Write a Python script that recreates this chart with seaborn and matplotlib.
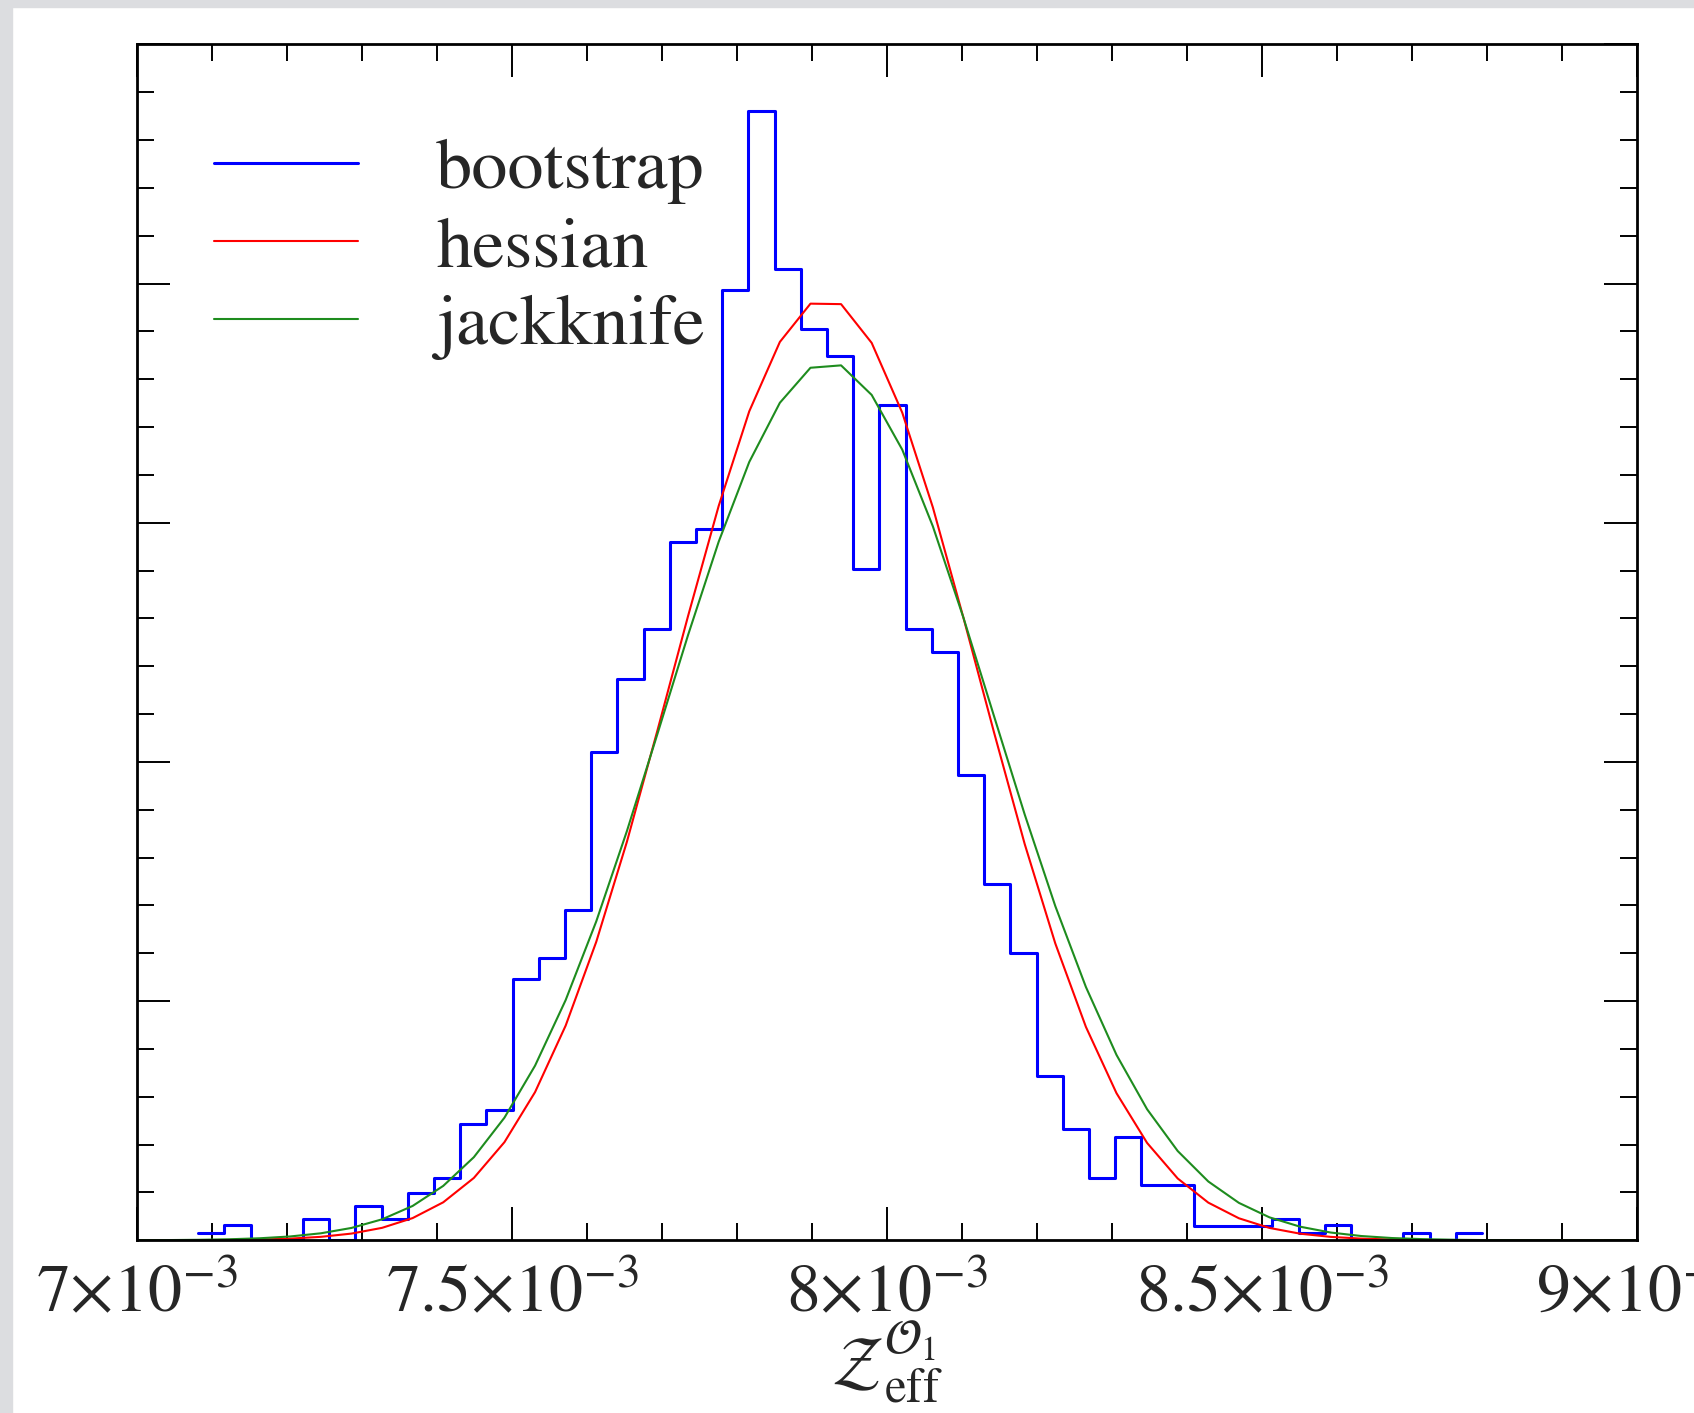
"""
Bootstrap histogram of Z_eff^{O1} vs hessian / jackknife gaussians
"""

import numpy as np
import pandas as pd
import matplotlib.pyplot as plt
import seaborn as sns
from matplotlib.patches import Rectangle
from matplotlib.ticker import MultipleLocator

sns.set_theme(style="ticks")
plt.rcParams["font.family"] = ["STIXGeneral", "DejaVu Serif"]
plt.rcParams["mathtext.fontset"] = "stix"

# ----------------------------------------------------------------------
# data
# ----------------------------------------------------------------------
# bootstrap histogram: 49 bins between these two edges, density heights
hist_lo, hist_hi = 0.0070814, 0.0087935
boot_density = [15, 32, 0, 0, 45, 0, 72, 45, 98, 131,
                244, 273, 546, 591, 691, 1020, 1174, 1277, 1460, 1487,
                1986, 2360, 2031, 1905, 1848, 1404, 1747, 1277, 1230, 973,
                745, 600, 343, 232, 131, 217, 115, 115, 30, 30,
                30, 45, 16, 32, 0, 0, 16, 0, 16]

# curves sampled on 50 points from 7e-3 to 9e-3
curve_lo, curve_hi = 0.007, 0.009
hessian = [0.06, 0.15, 0.35, 0.79, 1.7, 3.6, 7.3, 14.1, 26.1, 46.5,
           79.5, 130.4, 205.2, 309.8, 448.8, 624.0, 832.8, 1066.0, 1305.0, 1535.0,
           1733.0, 1878.0, 1958.0, 1957.0, 1876.0, 1730.0, 1532.0, 1301.0, 1061.3, 828.5,
           620.6, 446.2, 307.6, 203.6, 129.3, 78.8, 46.1, 25.9, 13.9, 7.2,
           3.6, 1.7, 0.77, 0.34, 0.14, 0.06, 0.02, 0.01, 0.0, 0.0]
jackknife = [0.24, 0.52, 1.1, 2.2, 4.3, 8.1, 14.7, 25.9, 43.9, 71.9,
             113.8, 173.8, 256.4, 365.1, 502.2, 666.7, 855.2, 1058.7, 1265.3, 1460.2,
             1627.1, 1750.8, 1824.0, 1829.0, 1767.2, 1652.7, 1492.4, 1301.3, 1095.3, 890.3,
             698.7, 529.6, 387.6, 274.0, 186.7, 123.0, 78.3, 48.0, 28.5, 16.3,
             9.0, 4.8, 2.5, 1.2, 0.59, 0.27, 0.12, 0.05, 0.02, 0.01]

xtick_vals = [0.007, 0.0075, 0.008, 0.0085, 0.009]
xtick_labels = [r"$7{\times}10^{-3}$", r"$7.5{\times}10^{-3}$", r"$8{\times}10^{-3}$",
                r"$8.5{\times}10^{-3}$", r"$9{\times}10^{-3}$"]

edges = np.linspace(hist_lo, hist_hi, len(boot_density) + 1)
boot = pd.DataFrame({"x": edges, "y": boot_density + [boot_density[-1]]})
xs = np.linspace(curve_lo, curve_hi, len(hessian))
curves = pd.DataFrame({"x": xs, "hessian": hessian, "jackknife": jackknife})

# ----------------------------------------------------------------------
# plot
# ----------------------------------------------------------------------
fig, ax = plt.subplots(figsize=(16.94, 14.13), dpi=100)
fig.subplots_adjust(left=0.081, right=0.9662, top=0.9686, bottom=0.1222)

sns.lineplot(data=boot, x="x", y="y", ax=ax, color="#0000ff", lw=2.2,
             drawstyle="steps-post", estimator=None, sort=False, label="bootstrap")
sns.lineplot(data=curves, x="x", y="hessian", ax=ax, color="#ff0000", lw=1.5,
             estimator=None, label="hessian")
sns.lineplot(data=curves, x="x", y="jackknife", ax=ax, color="#1e8c1e", lw=1.5,
             estimator=None, label="jackknife")

ax.set_xlim(0.007, 0.009)
ax.set_ylim(0, 2500)
ax.set_xticks(xtick_vals)
ax.set_xticklabels(xtick_labels)
ax.xaxis.set_minor_locator(MultipleLocator(0.0001))
ax.yaxis.set_major_locator(MultipleLocator(500))
ax.yaxis.set_minor_locator(MultipleLocator(100))
ax.tick_params(which="both", direction="in", top=True, right=True,
               labelleft=False, width=1.4, color="black")
ax.tick_params(which="major", length=24)
ax.tick_params(which="minor", length=12.5)
ax.tick_params(axis="x", labelsize=49, pad=18)
for s in ax.spines.values():
    s.set_linewidth(2.0)
    s.set_color("black")

ax.set_xlabel(r"$\mathcal{Z}^{\mathcal{O}_1}_{\mathrm{eff}}$", fontsize=50, labelpad=-6)
ax.set_ylabel("")

ax.legend(loc="upper left", bbox_to_anchor=(0.051, 0.922), frameon=False,
          fontsize=52, handlelength=2.0, handletextpad=1.08, labelspacing=0.16,
          borderpad=0, borderaxespad=0)

# light grey frame strip of the screenshot
fig.add_artist(Rectangle((0, 0), 0.0068, 1, transform=fig.transFigure,
                         color="#dcdde0", zorder=-1))
fig.add_artist(Rectangle((0, 0.995), 1, 0.005, transform=fig.transFigure,
                         color="#dcdde0", zorder=-1))

plt.savefig("out.png", dpi=100)
plt.close()
